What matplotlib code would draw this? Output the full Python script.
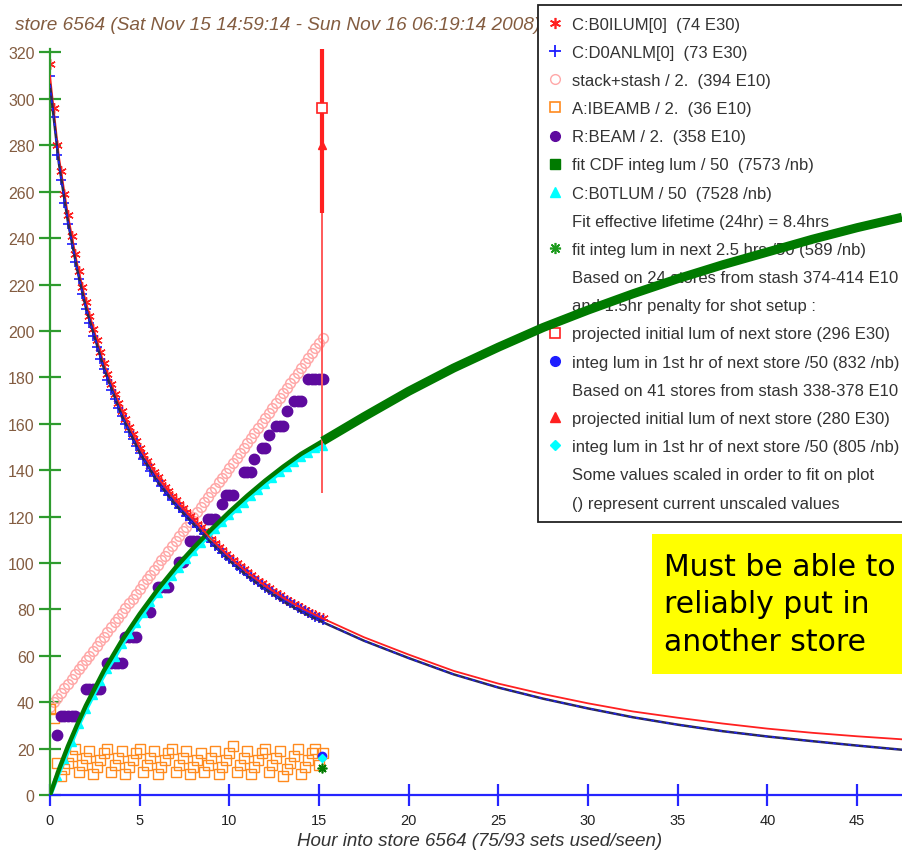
import numpy as np
import matplotlib
matplotlib.use('Agg')
import matplotlib.pyplot as plt
from matplotlib.lines import Line2D
from matplotlib.patches import Rectangle

plt.rcParams['font.family'] = ['Liberation Sans', 'DejaVu Sans']

# ---------------- data ----------------
title = "store 6564 (Sat Nov 15 14:59:14 - Sun Nov 16 06:19:14 2008)"
x_label = "Hour into store 6564 (75/93 sets used/seen)"
x_ticks = [0, 5, 10, 15, 20, 25, 30, 35, 40, 45]
y_ticks = [0, 20, 40, 60, 80, 100, 120, 140, 160, 180, 200, 220, 240, 260, 280, 300, 320]

hours = [0.0, 0.2, 0.4, 0.6, 0.8, 1.0, 1.2, 1.4, 1.6, 1.8,
         2.0, 2.2, 2.4, 2.6, 2.8, 3.0, 3.2, 3.4, 3.6, 3.8,
         4.0, 4.2, 4.4, 4.6, 4.8, 5.0, 5.2, 5.4, 5.6, 5.8,
         6.0, 6.2, 6.4, 6.6, 6.8, 7.0, 7.2, 7.4, 7.6, 7.8,
         8.0, 8.2, 8.4, 8.6, 8.8, 9.0, 9.2, 9.4, 9.6, 9.8,
         10.0, 10.2, 10.4, 10.6, 10.8, 11.0, 11.2, 11.4, 11.6, 11.8,
         12.0, 12.2, 12.4, 12.6, 12.8, 13.0, 13.2, 13.4, 13.6, 13.8,
         14.0, 14.2, 14.4, 14.6, 14.8, 15.0, 15.2]

b0ilum = [315, 296, 280, 269, 259, 250, 241, 233, 226, 219,
          212.5, 206.5, 201, 196, 191, 186, 181.5, 177, 173, 169,
          165.5, 162, 158.7, 155.5, 152.4, 149.5, 146.5, 144, 141.6, 139.3,
          137, 134.9, 132.8, 130.8, 128.9, 127, 125.2, 123.5, 121.8, 120.2,
          118.6, 117, 115.4, 113.6, 111.9, 110.2, 108.6, 107, 105.5, 104,
          102.6, 101.2, 99.8, 98.5, 97.2, 95.9, 94.7, 93.5, 92.3, 91.2,
          90.1, 89, 88, 87, 86, 85, 84.1, 83.2, 82.3, 81.4,
          80.6, 79.8, 79, 78.2, 77.5, 76.8, 76.1]

d0anlm = [310, 292, 276, 265, 255, 246, 237.5, 229.5, 222.5, 216,
          209.5, 203.5, 198, 193, 188, 183.5, 179, 174.5, 170.5, 166.7,
          163.2, 159.8, 156.5, 153.4, 150.4, 147.5, 144.6, 142.1, 139.7, 137.4,
          135.2, 133.1, 131.1, 129.1, 127.2, 125.4, 123.6, 121.9, 120.3, 118.7,
          117.1, 115.6, 114.1, 112.3, 110.7, 109.0, 107.5, 105.9, 104.5, 103.0,
          101.6, 100.3, 98.9, 97.6, 96.4, 95.1, 93.9, 92.8, 91.6, 90.5,
          89.4, 88.3, 87.3, 86.3, 85.3, 84.4, 83.5, 82.6, 81.7, 80.8,
          80.0, 79.2, 78.4, 77.6, 76.9, 76.2, 75.5]

stack_stash = [38.0, 40.0, 42.0, 44.0, 46.0, 48.0, 50.0, 52.1, 54.1, 56.1,
               58.1, 60.1, 62.2, 64.2, 66.2, 68.3, 70.3, 72.3, 74.4, 76.4,
               78.5, 80.5, 82.6, 84.6, 86.7, 88.8, 90.8, 92.9, 94.9, 97.0,
               99.1, 101.2, 103.2, 105.3, 107.4, 109.5, 111.6, 113.6, 115.7, 117.8,
               119.9, 122.0, 124.1, 126.2, 128.3, 130.4, 132.5, 134.7, 136.8, 138.9,
               141.0, 143.1, 145.2, 147.4, 149.5, 151.6, 153.8, 155.9, 158.0, 160.2,
               162.3, 164.5, 166.6, 168.8, 170.9, 173.1, 175.2, 177.4, 179.5, 181.7,
               183.9, 186.0, 188.2, 190.4, 192.6, 194.8, 196.9]

ibeamb = [37, 33, 14, 8, 11, 14, 17, 20, 10, 13,
          16, 19, 9, 12, 15, 18, 20, 10, 13, 16,
          19, 9, 12, 15, 18, 20, 10, 13, 16, 19,
          9, 12, 15, 18, 20, 10, 13, 16, 19, 9,
          12, 15, 18, 10, 13, 16, 19, 9, 12, 15,
          18, 21, 10, 13, 16, 19, 9, 12, 15, 18,
          20, 10, 13, 16, 19, 8, 11, 14, 17, 20,
          9, 12, 15, 18, 20, 13, 18]

nan = np.nan
r_beam = [nan, nan, 26, 34, 34, 34, 34, 34, nan, nan,
          45.5, 45.5, 45.5, 45.5, 45.5, nan, 57, 57, 57, 57,
          57, 68, 68, 68, 68, nan, nan, nan, 79, nan,
          89.5, 89.5, 89.5, 89.5, nan, nan, 100.5, 100.5, nan, 109.5,
          109.5, 109.5, nan, nan, 119, 119, 119, nan, 125.5, 129.5,
          129.5, 129.5, nan, nan, 139, 139, 139, 145, nan, 149.5,
          149.5, 155, nan, 159, 159, 159, 165.5, nan, 170, 170,
          170, nan, 179.3, 179.3, 179.3, 179.3, 179.3]

# C:B0TLUM / 50, sampled every other set
b0tlum_hours = hours[::2]
b0tlum = [0, 8, 15.5, 23, 30.5, 37, 43, 49, 54.5, 59.5,
          65, 69.5, 74, 78.5, 83, 87, 91, 94.5, 98, 101.5,
          105, 108.5, 111.5, 114.5, 117.5, 120.5, 123.5, 126, 129, 131.5,
          134, 136.5, 139, 141.5, 143.5, 145.5, 147.5, 149.5, 150.6]

# fits (extrapolated beyond the data)
fit_hours = [0, 0.5, 1, 1.5, 2, 3, 4, 5, 6, 7, 8, 9, 10, 11, 12, 13, 14, 15.2,
             17.5, 20, 22.5, 25, 27.5, 30, 32.5, 35, 37.5, 40, 42.5, 45, 47.5]
fit_cdf = [0, 11, 21, 30, 38.5, 53.5, 66.5, 78, 88.5, 98, 106.5, 114.5, 122, 129,
           135.5, 141.5, 147, 152.5,
           163, 174, 184, 193, 201.5, 209, 216, 222.5, 228.5, 234, 239.5, 244.5, 249]
fit_b0ilum = [310, 275, 250, 229.5, 212.5, 186, 165.5, 149.5, 137, 127, 118.6, 110.2,
              102.6, 95.9, 90.1, 85, 80.6, 76.1,
              68, 60.5, 53.5, 48, 43.5, 39.5, 36, 33.3, 30.8, 28.6, 26.8, 25.3, 24.0]
fit_d0anlm = [306, 272, 247, 227, 210, 184, 163.5, 147.5, 135, 125, 116.8, 108.6,
              101, 94.4, 88.6, 83.5, 79, 74.5,
              66.5, 59, 52, 46.3, 41.5, 37.3, 33.5, 30.3, 27.5, 25.2, 23.2, 21.3, 19.5]
n_data_fit = 18  # fit points inside the data range

# projections for the next store
proj_hour = 15.15
proj_lum_24 = 296
proj_err_24 = 45
proj_lum_41 = 280
proj_err_41 = 150
integ_1hr_24 = 16.6
integ_1hr_41 = 16.1
fit_next_25 = 11.8

legend_labels = [
    "C:B0ILUM[0]  (74 E30)",
    "C:D0ANLM[0]  (73 E30)",
    "stack+stash / 2.  (394 E10)",
    "A:IBEAMB / 2.  (36 E10)",
    "R:BEAM / 2.  (358 E10)",
    "fit CDF integ lum / 50  (7573 /nb)",
    "C:B0TLUM / 50  (7528 /nb)",
    "Fit effective lifetime (24hr) = 8.4hrs",
    "fit integ lum in next 2.5 hrs /50 (589 /nb)",
    "Based on 24 stores from stash 374-414 E10",
    "and 1.5hr penalty for shot setup :",
    "projected initial lum of next store (296 E30)",
    "integ lum in 1st hr of next store /50 (832 /nb)",
    "Based on 41 stores from stash 338-378 E10",
    "projected initial lum of next store (280 E30)",
    "integ lum in 1st hr of next store /50 (805 /nb)",
    "Some values scaled in order to fit on plot",
    "() represent current unscaled values",
]
note_lines = "Must be able to\nreliably put in\nanother store"

# ---------------- colours ----------------
RED = '#FF2020'
BLUE = '#1E1EFF'
PINK = '#FFA8A8'
ORANGE = '#FF8A1E'
PURPLE = '#5E0A9E'
GREEN = '#007A00'
CYAN = '#00FFFF'
BROWN = '#835C40'
AST6 = (6, 2, 0)
AST8 = (8, 2, 0)

W, H = 902, 854
fig = plt.figure(figsize=(W / 100, H / 100), dpi=100)
fig.patch.set_facecolor('white')
ax = fig.add_axes([50 / W, 58 / H, 852 / W, 746 / H])
ax.set_xlim(0, 47.5)
ax.set_ylim(0, 321.5)

ax.plot(hours, stack_stash, ls='none', marker='o', mfc='none', mec=PINK, ms=7, mew=1.1, zorder=2.0)
ax.plot(hours, ibeamb, ls='none', marker='s', mfc='none', mec=ORANGE, ms=7, mew=1.0, zorder=2.1)
ax.plot(hours, r_beam, ls='none', marker='o', color=PURPLE, ms=7.5, zorder=2.2)
ax.plot(hours, b0ilum, ls='none', marker=AST6, color=RED, ms=7.5, mew=1.0, zorder=2.3)
ax.plot(hours, d0anlm, ls='none', marker='+', color=BLUE, ms=7, mew=1.2, zorder=2.4)
ax.plot(b0tlum_hours, b0tlum, color=CYAN, lw=3.5, zorder=2.5)
ax.plot(b0tlum_hours, b0tlum, ls='none', marker='^', color=CYAN, ms=6, zorder=2.5)
ax.plot(fit_hours[:n_data_fit], fit_cdf[:n_data_fit], color=GREEN, lw=3.2, zorder=2.6)
ax.plot(fit_hours[n_data_fit - 1:], fit_cdf[n_data_fit - 1:], color=GREEN, lw=6.5,
        solid_capstyle='butt', zorder=6)
ax.plot(fit_hours, fit_b0ilum, color=RED, lw=1.3, zorder=3.0)
ax.plot(fit_hours, fit_d0anlm, color='#2A2A55', lw=1.8, zorder=3.1)
ax.plot(fit_hours, fit_d0anlm, color=BLUE, lw=1.1, dashes=(2, 3), zorder=3.2)

ax.errorbar([proj_hour], [proj_lum_41], yerr=proj_err_41, fmt='^', color=RED, ms=6,
            ecolor='#FF5A5A', elinewidth=1.4, capsize=0, zorder=3.9)
ax.errorbar([proj_hour], [proj_lum_24], yerr=proj_err_24, fmt='s', mfc='white', mec=RED,
            ms=7, mew=1.2, ecolor=RED, elinewidth=3, capsize=0, zorder=4.0)
ax.plot([proj_hour], [integ_1hr_24], ls='none', marker='o', color=BLUE, ms=6, zorder=4)
ax.plot([proj_hour], [integ_1hr_41], ls='none', marker='D', color=CYAN, ms=4.5, zorder=4.1)
ax.plot([proj_hour], [fit_next_25], ls='none', marker=AST8, color=GREEN, ms=7, mew=1.2, zorder=4.2)

# axes styling
for s in ('top', 'right'):
    ax.spines[s].set_visible(False)
ax.spines['left'].set_color('#2E9B2E')
ax.spines['left'].set_linewidth(1.6)
ax.spines['bottom'].set_color('#2525FF')
ax.spines['bottom'].set_linewidth(1.6)
ax.set_xticks(x_ticks)
ax.set_yticks(y_ticks)
ax.tick_params(axis='y', direction='inout', length=16, width=1.6, color='#2E9B2E',
               labelcolor=BROWN, labelsize=11.5, pad=3)
ax.tick_params(axis='x', direction='inout', length=16, width=1.6, color='#2525FF',
               labelcolor='#222222', labelsize=10.5, pad=5)
ax.set_xlabel(x_label, fontsize=13.5, style='italic', color='#333333')
ax.xaxis.set_label_coords((480 - 50) / 852, -(833 - 796) / 746)

ax.text(15 / W, 1 - 25 / H, title, transform=fig.transFigure, fontsize=13.7,
        style='italic', color=BROWN, ha='left', va='center', zorder=4.5)

# legend
def blank():
    return Line2D([], [], ls='none')

handles = [
    Line2D([], [], ls='none', marker=AST6, color=RED, ms=8, mew=1.2),
    Line2D([], [], ls='none', marker='+', color=BLUE, ms=9, mew=1.3),
    Line2D([], [], ls='none', marker='o', mfc='none', mec=PINK, ms=7, mew=1.0),
    Line2D([], [], ls='none', marker='s', mfc='none', mec=ORANGE, ms=7, mew=1.2),
    Line2D([], [], ls='none', marker='o', color=PURPLE, ms=7),
    Line2D([], [], ls='none', marker='s', color=GREEN, ms=7),
    Line2D([], [], ls='none', marker='^', color=CYAN, ms=7),
    blank(),
    Line2D([], [], ls='none', marker=AST8, color='#1E9B1E', ms=8, mew=1.2),
    blank(),
    blank(),
    Line2D([], [], ls='none', marker='s', mfc='white', mec=RED, ms=7, mew=1.2),
    Line2D([], [], ls='none', marker='o', color=BLUE, ms=7),
    blank(),
    Line2D([], [], ls='none', marker='^', color=RED, ms=7),
    Line2D([], [], ls='none', marker='D', color=CYAN, ms=5),
    blank(),
    blank(),
]
leg = ax.legend(handles, legend_labels, loc='upper left',
                bbox_to_anchor=(538 / W, 1 - 6 / H), bbox_transform=fig.transFigure,
                borderaxespad=0, frameon=True, fancybox=False, edgecolor='#222222',
                framealpha=1, fontsize=12, labelcolor='#333333', handlelength=0.64,
                handletextpad=0.7, borderpad=0.7, labelspacing=0.79, numpoints=1)
leg.get_frame().set_linewidth(1.3)
leg.set_zorder(5)

# yellow note
fig.add_artist(Rectangle((652 / W, (H - 675) / H), 260 / W, 140 / H, transform=fig.transFigure,
                         facecolor='#FFFF00', edgecolor='none', zorder=10))
fig.text(664 / W, 1 - 605 / H, note_lines, fontsize=21.5, family='DejaVu Sans',
         ha='left', va='center', linespacing=1.38, color='black', zorder=11)

fig.savefig('out.png', dpi=100)
